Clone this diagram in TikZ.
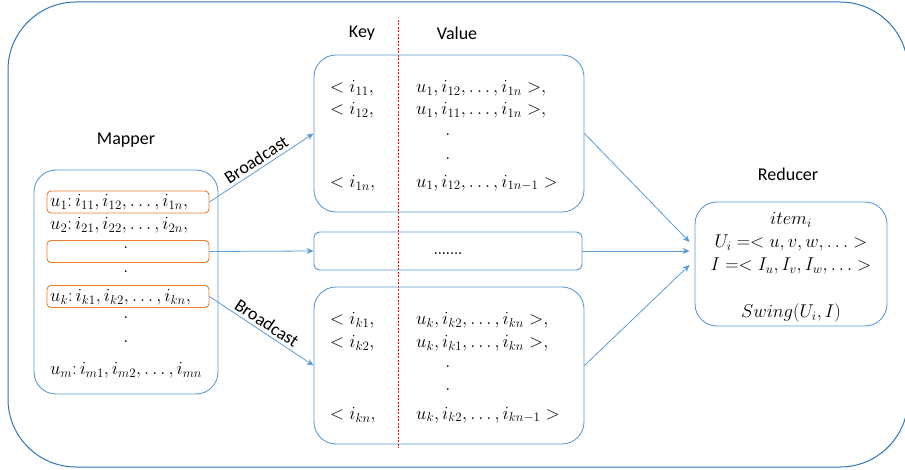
\RequirePackage{fix-cm}
\documentclass[tikz,border=0pt]{standalone}
\usepackage{fontspec}
\newfontfamily\calib{Carlito}
\usetikzlibrary{arrows.meta,calc}
\definecolor{lblue}{RGB}{91,155,213}
\definecolor{dblue}{RGB}{46,117,182}
\definecolor{orng}{RGB}{237,125,49}
\tikzset{
  bluebox/.style={draw=lblue,line width=0.9pt,rounded corners=22pt,inner sep=0pt},
  orbox/.style={draw=orng,line width=0.9pt,rounded corners=4pt,inner sep=0pt,minimum width=162pt,minimum height=22pt},
  lbl/.style={font=\calib\fontsize{18}{20}\selectfont,inner sep=0pt},
  mtx/.style={font=\fontsize{18.5}{20}\selectfont,inner sep=0pt},
  conn/.style={draw=lblue,line width=0.8pt,-{Stealth[length=7pt,width=6pt]}},
}
\begin{document}
\begin{tikzpicture}[x=1pt,y=-1pt]
\useasboundingbox (0,0) rectangle (905,470);
% outer frame
\draw[dblue,line width=1pt,rounded corners=68pt] (8,2) rectangle (908,467);
% red dashed divider
\draw[red,dashed,line width=0.6pt,dash pattern=on 2pt off 1.5pt] (398,20) -- (398,448);
% labels
\node[lbl] (mapperlbl) at (126,140) {Mapper};
\node[lbl] (keylbl) at (362,33) {Key};
\node[lbl] (vallbl) at (457,33) {Value};
\node[lbl] (redlbl) at (788,174) {Reducer};
% mapper box
\node[bluebox,minimum width=184pt,minimum height=224pt] (mapper) at (126,282) {};
\node[orbox] (o1) at (128,202) {};
\node[orbox] (o2) at (128,251.5) {};
\node[orbox] (o3) at (128,296.5) {};
\node[mtx,anchor=west] (m1) at (50,202) {$u_1\colon i_{11},i_{12},\dots,i_{1n},$};
\node[mtx,anchor=west] (m2) at (50,225) {$u_2\colon i_{21},i_{22},\dots,i_{2n},$};
\node[mtx] (md1) at (126,248) {$.$};
\node[mtx] (md2) at (126,272) {$.$};
\node[mtx,anchor=west] (m3) at (50,297) {$u_k\colon i_{k1},i_{k2},\dots,i_{kn},$};
\node[mtx] (md3) at (126,318) {$.$};
\node[mtx] (md4) at (126,342) {$.$};
\node[mtx,anchor=west] (m4) at (50,370) {$u_m\colon i_{m1},i_{m2},\dots,i_{mn}$};
% top box
\node[bluebox,minimum width=270pt,minimum height=157pt] (top) at (449,133.5) {};
\node[mtx,anchor=west] (t1k) at (330,88) {$<i_{11},$};
\node[mtx,anchor=west] (t1v) at (416,88) {$u_1,i_{12},\dots,i_{1n}>,$};
\node[mtx,anchor=west] (t2k) at (330,110) {$<i_{12},$};
\node[mtx,anchor=west] (t2v) at (416,110) {$u_1,i_{11},\dots,i_{1n}>,$};
\node[mtx] (td1) at (448,135) {$.$};
\node[mtx] (td2) at (448,159) {$.$};
\node[mtx,anchor=west] (t3k) at (330,183) {$<i_{1n},$};
\node[mtx,anchor=west] (t3v) at (416,183) {$u_1,i_{12},\dots,i_{1n-1}>$};
% middle box
\node[draw=lblue,line width=0.9pt,rounded corners=6pt,minimum width=268pt,minimum height=38pt,inner sep=0pt] (mid) at (448,251) {};
\node[font=\bfseries\fontsize{13}{14}\selectfont,inner sep=0pt] (middots) at (448,254) {.......};
% bottom box
\node[bluebox,minimum width=270pt,minimum height=157pt] (bot) at (449,365.5) {};
\node[mtx,anchor=west] (b1k) at (330,320) {$<i_{k1},$};
\node[mtx,anchor=west] (b1v) at (416,320) {$u_k,i_{k2},\dots,i_{kn}>,$};
\node[mtx,anchor=west] (b2k) at (330,343) {$<i_{k2},$};
\node[mtx,anchor=west] (b2v) at (416,343) {$u_k,i_{k1},\dots,i_{kn}>,$};
\node[mtx] (bd1) at (448,367) {$.$};
\node[mtx] (bd2) at (448,390) {$.$};
\node[mtx,anchor=west] (b3k) at (330,415) {$<i_{kn},$};
\node[mtx,anchor=west] (b3v) at (416,415) {$u_k,i_{k2},\dots,i_{kn-1}>$};
% reducer box
\node[bluebox,minimum width=192pt,minimum height=124pt] (red) at (791,264) {};
\node[mtx] (r1) at (791,220) {$item_i$};
\node[mtx] (r2) at (791,243) {$U_i=<u,v,w,\dots>$};
\node[mtx] (r3) at (791,266) {$I=<I_u,I_v,I_w,\dots>$};
\node[mtx] (r4) at (791,313) {$Swing(U_i,I)$};
% connectors
\draw[conn] (o1.east) -- node[lbl,sloped,above=3pt,pos=0.5] (bc1) {Broadcast} (top.west);
\draw[conn] (o2.east) -- (mid.west);
\draw[conn] (o3.east) -- node[lbl,sloped,above=3pt,pos=0.5] (bc2) {Broadcast} (bot.west);
\coordinate (ra) at ($(red.west)+(-5,-22)$);
\coordinate (rb) at ($(red.west)+(-5,-13)$);
\coordinate (rc) at ($(red.west)+(-5,1)$);
\draw[conn] (top.east) -- (ra);
\draw[conn] (mid.east) -- (rb);
\draw[conn] (bot.east) -- (rc);
\end{tikzpicture}
\end{document}
